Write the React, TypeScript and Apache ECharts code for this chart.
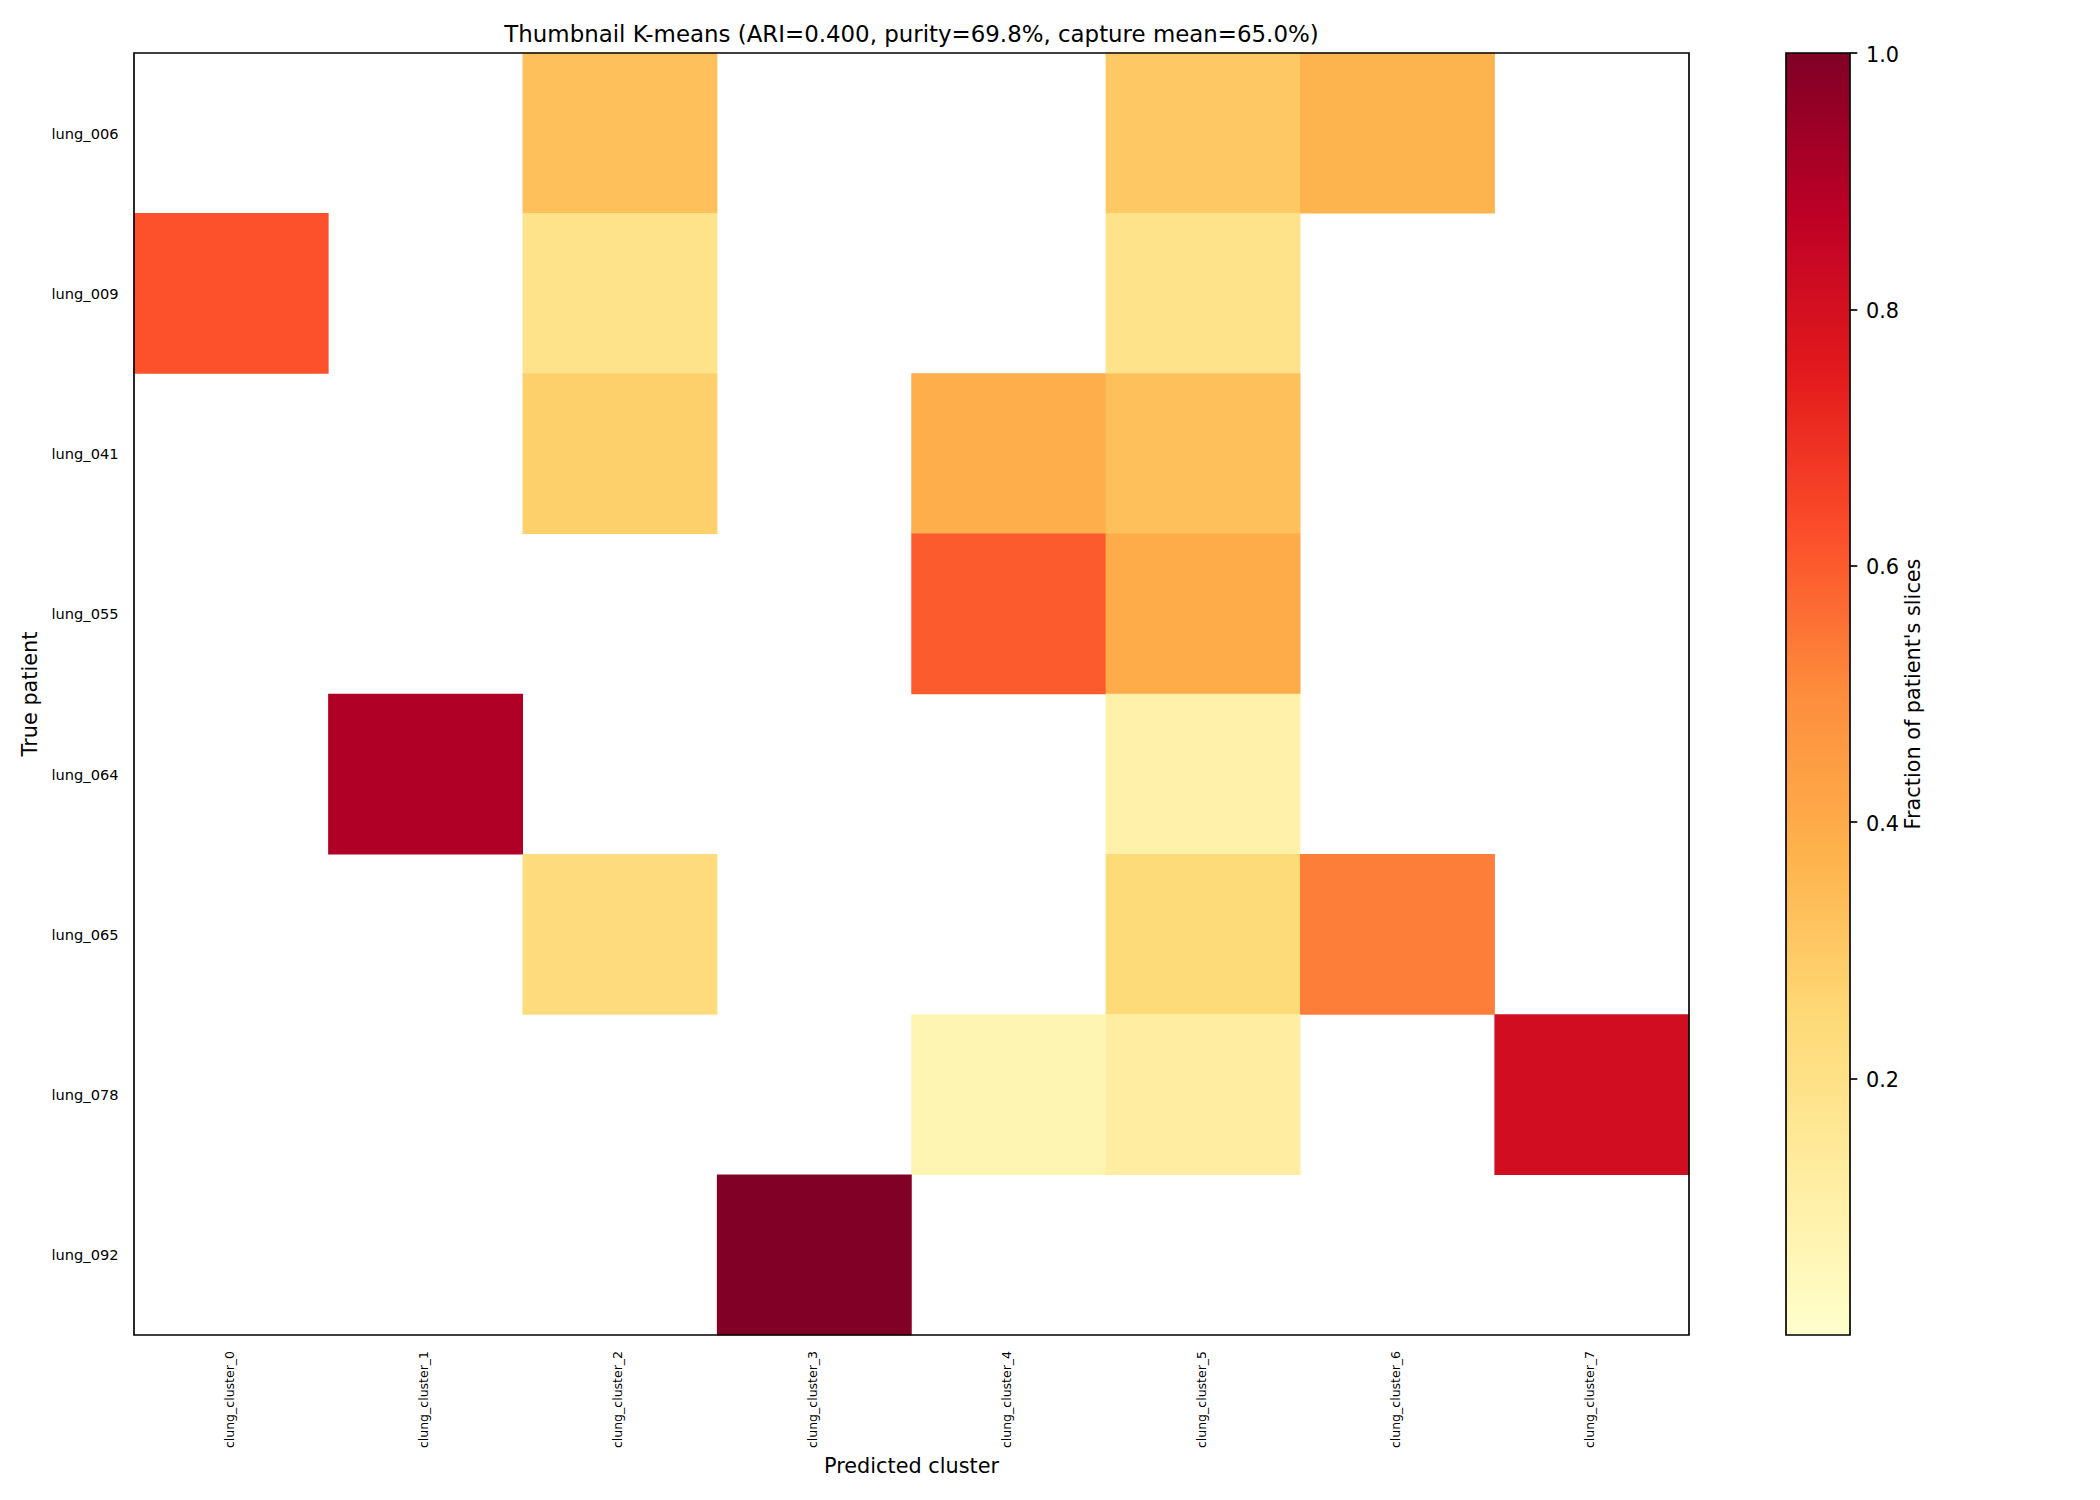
import * as echarts from 'echarts';
import { useEffect, useRef } from 'react';

const clusters = [
  'clung_cluster_0',
  'clung_cluster_1',
  'clung_cluster_2',
  'clung_cluster_3',
  'clung_cluster_4',
  'clung_cluster_5',
  'clung_cluster_6',
  'clung_cluster_7',
];
const patients = ['lung_006', 'lung_009', 'lung_041', 'lung_055', 'lung_064', 'lung_065', 'lung_078', 'lung_092'];

// fraction of each patient's slices per cluster, 0 = empty cell
const lung006 = [0, 0, 0.33, 0, 0, 0.3, 0.37, 0];
const lung009 = [0.62, 0, 0.19, 0, 0, 0.19, 0, 0];
const lung041 = [0, 0, 0.28, 0, 0.39, 0.33, 0, 0];
const lung055 = [0, 0, 0, 0, 0.6, 0.4, 0, 0];
const lung064 = [0, 0.9, 0, 0, 0, 0.1, 0, 0];
const lung065 = [0, 0, 0.23, 0, 0, 0.24, 0.53, 0];
const lung078 = [0, 0, 0, 0, 0.07, 0.12, 0, 0.81];
const lung092 = [0, 0, 0, 1, 0, 0, 0, 0];
const rows = [lung006, lung009, lung041, lung055, lung064, lung065, lung078, lung092];

const colorbarTicks = [0.2, 0.4, 0.6, 0.8, 1];
const ylOrRd = ['#ffffcc', '#ffeda0', '#fed976', '#feb24c', '#fd8d3c', '#fc4e2a', '#e31a1c', '#bd0026', '#800026'];

const FONT = '"DejaVu Sans", sans-serif';
const INK = '#000000';
const LINE = 1.67;

const plot = { left: 134, top: 53, width: 1555, height: 1282 };
const bar = { left: 1786, top: 53, width: 64, height: 1282 };

export default function App() {
  const chartRef = useRef<HTMLDivElement>(null);

  useEffect(() => {
    if (!chartRef.current) return;

    const chart = echarts.init(chartRef.current, undefined, { renderer: 'svg' });

    const cells: number[][] = [];
    rows.forEach((row, y) => {
      row.forEach((v, x) => {
        if (v > 0) cells.push([x, y, v]);
      });
    });

    const frame = (r: { left: number; top: number; width: number; height: number }) => ({
      type: 'rect' as const,
      silent: true,
      z: 100,
      shape: { x: r.left, y: r.top, width: r.width, height: r.height },
      style: { fill: 'none', stroke: INK, lineWidth: LINE },
    });

    chart.setOption({
      animation: false,
      backgroundColor: '#ffffff',
      textStyle: { fontFamily: FONT },
      title: {
        text: 'Thumbnail K-means (ARI=0.400, purity=69.8%, capture mean=65.0%)',
        left: 906.5,
        top: 17,
        textAlign: 'center',
        textStyle: { fontFamily: FONT, fontSize: 22.9, fontWeight: 'normal', color: INK },
      },
      grid: [
        { ...plot, containLabel: false },
        { ...bar, containLabel: false },
      ],
      xAxis: [
        {
          type: 'category',
          gridIndex: 0,
          data: clusters,
          name: 'Predicted cluster',
          nameLocation: 'middle',
          nameGap: 117,
          nameTextStyle: { fontFamily: FONT, fontSize: 20.8, color: INK },
          axisLine: { show: false },
          axisTick: { alignWithLabel: true, length: 7.3, lineStyle: { color: INK, width: LINE } },
          axisLabel: {
            rotate: 90,
            fontSize: 12.5,
            margin: 16,
            color: INK,
            fontFamily: FONT,
            interval: 0,
            verticalAlign: 'bottom',
            lineHeight: 4,
          },
          splitLine: { show: false },
        },
        {
          type: 'category',
          gridIndex: 1,
          data: ['colorbar'],
          show: false,
        },
      ],
      yAxis: [
        {
          type: 'category',
          gridIndex: 0,
          inverse: true,
          data: patients,
          name: 'True patient',
          nameLocation: 'middle',
          nameGap: 91,
          nameTextStyle: { fontFamily: FONT, fontSize: 20.8, color: INK },
          axisLine: { show: false },
          axisTick: { alignWithLabel: true, length: 7.3, lineStyle: { color: INK, width: LINE } },
          axisLabel: { fontSize: 14.6, margin: 15.5, color: INK, fontFamily: FONT, interval: 0 },
          splitLine: { show: false },
        },
        {
          type: 'value',
          gridIndex: 1,
          position: 'right',
          min: 0,
          max: 1,
          interval: 0.2,
          name: "Fraction of patient's slices",
          nameLocation: 'middle',
          nameRotate: 90,
          nameGap: 52,
          nameTextStyle: { fontFamily: FONT, fontSize: 20.8, color: INK },
          axisLine: { show: false },
          axisTick: { show: true, length: 7.3, customValues: colorbarTicks, lineStyle: { color: INK, width: LINE } },
          axisLabel: {
            fontSize: 20.8,
            margin: 16,
            color: INK,
            fontFamily: FONT,
            customValues: colorbarTicks,
            verticalAlign: 'top',
            lineHeight: 3,
            formatter: (v: number) => v.toFixed(1),
          },
          splitLine: { show: false },
        },
      ],
      visualMap: {
        show: false,
        type: 'continuous',
        min: 0,
        max: 1,
        seriesIndex: 0,
        dimension: 2,
        inRange: { color: ylOrRd },
      },
      series: [
        {
          type: 'heatmap',
          xAxisIndex: 0,
          yAxisIndex: 0,
          data: cells,
          silent: true,
          itemStyle: { borderWidth: 0 },
        },
        {
          type: 'bar',
          xAxisIndex: 1,
          yAxisIndex: 1,
          data: [1],
          barWidth: '100%',
          silent: true,
          itemStyle: {
            color: new echarts.graphic.LinearGradient(
              0,
              1,
              0,
              0,
              ylOrRd.map((color, i) => ({ offset: i / (ylOrRd.length - 1), color })),
            ),
          },
        },
      ],
      graphic: [frame(plot), frame(bar)],
    });

    return () => {
      chart.dispose();
    };
  }, []);

  return (
    <div
      ref={chartRef}
      style={{ position: 'absolute', left: 0, top: 0, width: '2100px', height: '1500px', background: '#fff' }}
    />
  );
}
